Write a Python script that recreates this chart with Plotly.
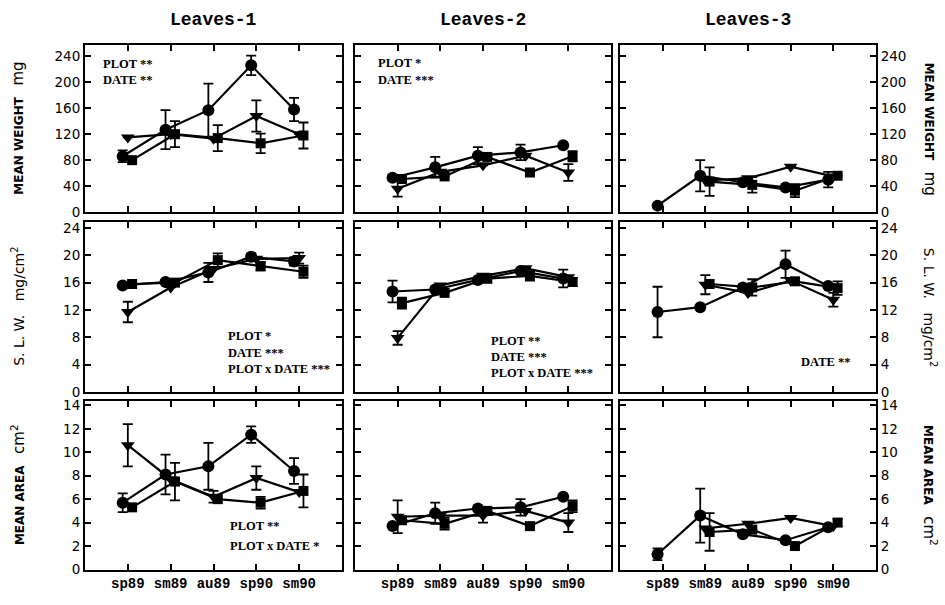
import plotly.graph_objects as go

# Sampling dates shared by every panel
seasons = ["sp89", "sm89", "au89", "sp90", "sm90"]
leaf_groups = ["Leaves-1", "Leaves-2", "Leaves-3"]

# ---- Mean weight (mg) ----
weight_l1_circle = [86, 127, 157, 226, 158]
weight_l1_circle_err = [9, 30, 41, 15, 18]
weight_l1_tri = [115, 120, 113, 148, 120]
weight_l1_tri_err = [0, 0, 0, 24, 0]
weight_l1_square = [80, 120, 114, 106, 118]
weight_l1_square_err = [0, 20, 20, 15, 20]

weight_l2_circle = [53, 69, 87, 92, 103]
weight_l2_circle_err = [4, 16, 13, 12, 0]
weight_l2_tri = [36, 62, 72, 87, 61]
weight_l2_tri_err = [12, 0, 0, 0, 13]
weight_l2_square = [51, 55, 85, 61, 86]
weight_l2_square_err = [0, 0, 0, 0, 8]

weight_l3_circle = [10, 56, 46, 38, 50]
weight_l3_circle_err = [0, 24, 0, 0, 12]
weight_l3_tri = [None, 49, 52, 70, 55]
weight_l3_tri_err = [0, 0, 0, 0, 0]
weight_l3_square = [None, 47, 42, 33, 56]
weight_l3_square_err = [0, 22, 12, 10, 0]

# ---- Specific leaf weight (mg/cm2) ----
slw_l1_circle = [15.6, 16.1, 17.5, 19.8, 19.1]
slw_l1_circle_err = [0, 0, 1.4, 0.5, 0.6]
slw_l1_tri = [11.7, 15.3, 18.0, 19.5, 19.6]
slw_l1_tri_err = [1.5, 0, 0, 0, 0.8]
slw_l1_square = [15.8, 16.0, 19.3, 18.4, 17.6]
slw_l1_square_err = [0, 0, 1.0, 0.6, 0.9]

slw_l2_circle = [14.7, 15.0, 16.4, 17.7, 16.6]
slw_l2_circle_err = [1.6, 0, 0, 0, 1.3]
slw_l2_tri = [7.9, 15.6, 17.0, 18.1, 16.8]
slw_l2_tri_err = [1.0, 0, 0, 0, 0]
slw_l2_square = [13.0, 14.5, 16.6, 17.0, 16.1]
slw_l2_square_err = [0.8, 0, 0.6, 0.7, 0.6]

slw_l3_circle = [11.7, 12.4, 15.3, 18.7, 15.5]
slw_l3_circle_err = [3.7, 0, 0, 2.0, 0]
slw_l3_tri = [None, 15.7, 14.5, 16.3, 13.5]
slw_l3_tri_err = [0, 1.4, 0, 0, 1.0]
slw_l3_square = [None, 15.8, 15.3, 16.2, 15.2]
slw_l3_square_err = [0, 0, 1.2, 0.5, 1.0]

# ---- Mean area (cm2) ----
area_l1_circle = [5.7, 8.1, 8.8, 11.5, 8.4]
area_l1_circle_err = [0.8, 1.7, 2.0, 0.7, 1.1]
area_l1_tri = [10.6, 7.7, 6.2, 7.8, 6.6]
area_l1_tri_err = [1.8, 0, 0.5, 1.0, 0]
area_l1_square = [5.3, 7.5, 6.0, 5.7, 6.7]
area_l1_square_err = [0, 1.6, 0, 0.5, 1.4]

area_l2_circle = [3.7, 4.8, 5.2, 5.3, 6.2]
area_l2_circle_err = [0, 0.9, 0, 0.7, 0]
area_l2_tri = [4.5, 4.6, 4.6, 5.0, 4.0]
area_l2_tri_err = [1.4, 0, 0.6, 0, 0.8]
area_l2_square = [4.2, 3.9, 5.0, 3.7, 5.4]
area_l2_square_err = [0, 0.5, 0, 0, 0.5]

area_l3_circle = [1.3, 4.6, 3.0, 2.5, 3.6]
area_l3_circle_err = [0.5, 2.3, 0, 0, 0]
area_l3_tri = [None, 3.5, 3.9, 4.4, 3.7]
area_l3_tri_err = [0, 0, 0, 0, 0]
area_l3_square = [None, 3.2, 3.4, 2.0, 4.0]
area_l3_square_err = [0, 1.6, 0, 0, 0.3]

# Statistical significance notes per panel
notes_weight_l1 = ["PLOT **", "DATE **"]
notes_weight_l2 = ["PLOT *", "DATE ***"]
notes_slw_l1 = ["PLOT *", "DATE ***", "PLOT x DATE ***"]
notes_slw_l2 = ["PLOT **", "DATE ***", "PLOT x DATE ***"]
notes_slw_l3 = ["DATE **"]
notes_area_l1 = ["PLOT **", "PLOT x DATE *"]

panels = [
    [
        [(weight_l1_circle, weight_l1_circle_err), (weight_l1_tri, weight_l1_tri_err), (weight_l1_square, weight_l1_square_err)],
        [(weight_l2_circle, weight_l2_circle_err), (weight_l2_tri, weight_l2_tri_err), (weight_l2_square, weight_l2_square_err)],
        [(weight_l3_circle, weight_l3_circle_err), (weight_l3_tri, weight_l3_tri_err), (weight_l3_square, weight_l3_square_err)],
    ],
    [
        [(slw_l1_circle, slw_l1_circle_err), (slw_l1_tri, slw_l1_tri_err), (slw_l1_square, slw_l1_square_err)],
        [(slw_l2_circle, slw_l2_circle_err), (slw_l2_tri, slw_l2_tri_err), (slw_l2_square, slw_l2_square_err)],
        [(slw_l3_circle, slw_l3_circle_err), (slw_l3_tri, slw_l3_tri_err), (slw_l3_square, slw_l3_square_err)],
    ],
    [
        [(area_l1_circle, area_l1_circle_err), (area_l1_tri, area_l1_tri_err), (area_l1_square, area_l1_square_err)],
        [(area_l2_circle, area_l2_circle_err), (area_l2_tri, area_l2_tri_err), (area_l2_square, area_l2_square_err)],
        [(area_l3_circle, area_l3_circle_err), (area_l3_tri, area_l3_tri_err), (area_l3_square, area_l3_square_err)],
    ],
]

W, H = 945, 605
col_px = [(85, 342), (355, 611), (620, 876)]
row_px = [(43, 213), (223, 396), (405, 577)]
y_ranges = [(0, 257), (0, 24.9), (0, 14.4)]
y_ticks = [list(range(0, 241, 40)), list(range(0, 25, 4)), list(range(0, 15, 2))]

# marker style and small horizontal offset for each series
styles = [
    dict(symbol="circle", size=12, dx=-0.12),
    dict(symbol="triangle-down", size=12, dx=0.0),
    dict(symbol="square", size=10, dx=0.1),
]

fig = go.Figure()
layout = dict(
    width=W, height=H, autosize=False,
    margin=dict(l=0, r=0, t=0, b=0),
    paper_bgcolor="white", plot_bgcolor="white",
    showlegend=False,
    font=dict(family="DejaVu Sans", color="black"),
)

for r in range(3):
    for c in range(3):
        k = r * 3 + c + 1
        xa = "x" if k == 1 else f"x{k}"
        ya = "y" if k == 1 else f"y{k}"
        for (vals, errs), st in zip(panels[r][c], styles):
            xs = [i + st["dx"] for i in range(len(seasons))]
            fig.add_trace(go.Scatter(
                x=xs, y=vals, xaxis=xa, yaxis=ya,
                mode="lines+markers",
                line=dict(color="black", width=2.2),
                marker=dict(symbol=st["symbol"], size=st["size"], color="black"),
                error_y=dict(type="data", array=errs, visible=True,
                             color="black", thickness=1.8, width=5),
                cliponaxis=False,
            ))
        x0, x1 = col_px[c]
        y0, y1 = row_px[r]
        layout["xaxis" if k == 1 else f"xaxis{k}"] = dict(
            domain=[x0 / W, x1 / W], range=[-1, 5],
            anchor=ya,
            tickvals=list(range(len(seasons))), ticktext=seasons,
            showticklabels=(r == 2),
            tickfont=dict(family="Liberation Mono", size=14, weight="bold"),
            ticks="inside", ticklen=6, tickwidth=1.8, tickcolor="black",
            showline=True, linecolor="black", linewidth=2, mirror="ticks",
            showgrid=False, zeroline=False,
        )
        layout["yaxis" if k == 1 else f"yaxis{k}"] = dict(
            domain=[1 - y1 / H, 1 - y0 / H], range=list(y_ranges[r]),
            anchor=xa,
            side="right" if c == 2 else "left",
            tickvals=y_ticks[r],
            showticklabels=(c != 1),
            tickfont=dict(family="DejaVu Sans", size=13.5),
            ticks="inside", ticklen=6, tickwidth=1.8, tickcolor="black",
            showline=True, linecolor="black", linewidth=2, mirror="ticks",
            showgrid=False, zeroline=False,
        )

fig.update_layout(**layout)

ann_font = dict(family="Liberation Serif", size=12.5, color="black", weight="bold")


def add_notes(k, lines, x, y_top, step):
    xa = "x" if k == 1 else f"x{k}"
    ya = "y" if k == 1 else f"y{k}"
    for i, t in enumerate(lines):
        fig.add_annotation(x=x, y=y_top - i * step, xref=xa, yref=ya, text=t,
                           showarrow=False, xanchor="left", yanchor="middle",
                           font=ann_font)


add_notes(1, notes_weight_l1, -0.63, 228, 24)
add_notes(2, notes_weight_l2, -0.5, 230, 26)
add_notes(4, notes_slw_l1, 2.30, 8.2, 2.45)
add_notes(5, notes_slw_l2, 2.15, 7.4, 2.35)
add_notes(6, notes_slw_l3, 3.2, 4.3, 2.4)
add_notes(7, notes_area_l1, 2.35, 3.7, 1.7)

# column titles
for c, name in enumerate(leaf_groups):
    xc = (col_px[c][0] + col_px[c][1]) / 2 / W
    fig.add_annotation(x=xc, y=1 - 17 / H, xref="paper", yref="paper", text=name,
                       showarrow=False, xanchor="center", yanchor="middle",
                       font=dict(family="Liberation Mono", size=18, color="black",
                                 weight="bold"))

# row titles on both sides
row_titles = [
    "<b>MEAN WEIGHT</b>   <span style='font-size:15px'>mg</span>",
    "<span style='font-size:14px'>S. L. W.   mg/cm<sup>2</sup></span>",
    "<b>MEAN AREA</b>   <span style='font-size:15px'>cm<sup>2</sup></span>",
]
for r, t in enumerate(row_titles):
    yc = 1 - (row_px[r][0] + row_px[r][1]) / 2 / H
    fig.add_annotation(x=18 / W, y=yc, xref="paper", yref="paper", text=t,
                       textangle=-90, showarrow=False, xanchor="center", yanchor="middle",
                       font=dict(family="DejaVu Sans", size=12, color="black"))
    fig.add_annotation(x=930 / W, y=yc, xref="paper", yref="paper", text=t,
                       textangle=90, showarrow=False, xanchor="center", yanchor="middle",
                       font=dict(family="DejaVu Sans", size=12, color="black"))

fig.write_html("out.html")
